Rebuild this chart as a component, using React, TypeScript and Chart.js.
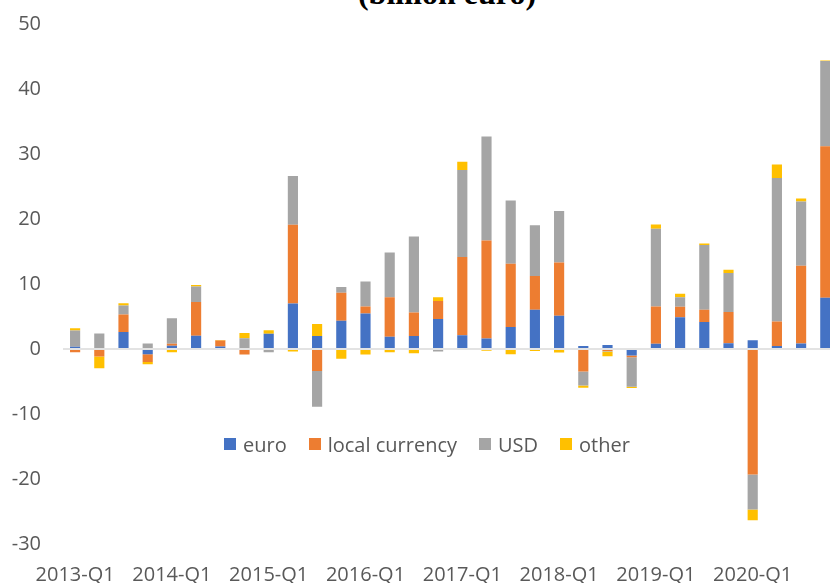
import React, { useEffect, useRef } from "react";
import { Chart, registerables } from "chart.js";

Chart.register(...registerables);

const categories = [
  "2013-Q1", "2013-Q2", "2013-Q3", "2013-Q4",
  "2014-Q1", "2014-Q2", "2014-Q3", "2014-Q4",
  "2015-Q1", "2015-Q2", "2015-Q3", "2015-Q4",
  "2016-Q1", "2016-Q2", "2016-Q3", "2016-Q4",
  "2017-Q1", "2017-Q2", "2017-Q3", "2017-Q4",
  "2018-Q1", "2018-Q2", "2018-Q3", "2018-Q4",
  "2019-Q1", "2019-Q2", "2019-Q3", "2019-Q4",
  "2020-Q1", "2020-Q2", "2020-Q3", "2020-Q4",
];

const euro = [0.35, -0.15, 2.6, -0.8, 0.5, 2.05, 0.4, 0, 2.35, 7.0, 2.0, 4.35, 5.45, 1.9, 2.0, 4.6, 2.1, 1.6, 3.4, 6.05, 5.1, 0.45, 0.6, -1.0, 0.8, 4.9, 4.15, 0.9, 1.35, 0.45, 0.85, 7.9];
const localCurrency = [-0.5, -1.0, 2.7, -1.2, 0.3, 5.2, 0.9, -0.85, 0, 12.1, -3.4, 4.3, 1.1, 6.05, 3.6, 2.8, 12.05, 15.1, 9.7, 5.2, 8.2, -3.45, -0.3, -0.25, 5.75, 1.6, 1.9, 4.8, -19.3, 3.8, 11.95, 23.3];
const usd = [2.5, 2.4, 1.4, 0.85, 3.95, 2.35, 0, 1.65, -0.5, 7.5, -5.5, 0.9, 3.85, 6.9, 11.7, -0.4, 13.4, 16.0, 9.75, 7.8, 7.95, -2.15, -0.1, -4.55, 11.95, 1.45, 9.95, 6.0, -5.4, 22.05, 9.9, 13.1];
const other = [0.35, -1.8, 0.35, -0.35, -0.5, 0.25, 0.1, 0.8, 0.55, -0.4, 1.85, -1.5, -0.85, -0.5, -0.65, 0.55, 1.25, -0.25, -0.8, -0.3, -0.55, -0.35, -0.7, -0.2, 0.65, 0.55, 0.25, 0.5, -1.65, 2.1, 0.45, 0.1];

const seriesNames = ["euro", "local currency", "USD", "other"];
const seriesColors = ["#4472C4", "#ED7D31", "#A5A5A5", "#FFC000"];
const yMin = -30;
const yMax = 50;
const yStep = 10;
const titleText = "(billion euro)";

const W = 860;
const H = 600;
const FONT = "'Open Sans', sans-serif";
const TEXT = "#595959";

export default function App() {
  const ref = useRef<HTMLCanvasElement | null>(null);

  useEffect(() => {
    if (!ref.current) return;
    const values = [euro, localCurrency, usd, other];
    const chart = new Chart(ref.current, {
      type: "bar",
      data: {
        labels: categories,
        datasets: seriesNames.map((name, i) => ({
          label: name,
          data: values[i],
          backgroundColor: seriesColors[i],
          borderWidth: 0,
          barPercentage: 1,
          categoryPercentage: 0.42,
        })),
      },
      options: {
        responsive: false,
        animation: false,
        layout: { padding: { top: 24, right: 22.6, bottom: 0, left: 0 } },
        plugins: {
          legend: { display: false },
          title: { display: false },
          tooltip: { enabled: false },
        },
        scales: {
          x: {
            stacked: true,
            grid: { display: false, drawTicks: false },
            border: { display: false },
            ticks: {
              autoSkip: false,
              maxRotation: 0,
              minRotation: 0,
              padding: 19,
              color: TEXT,
              font: { family: FONT, size: 20 },
              callback: (_v: any, i: number) => (i % 4 === 0 ? categories[i] : ""),
            },
            afterFit: (s: any) => {
              s.height = H - 544;
            },
          },
          y: {
            stacked: true,
            min: yMin,
            max: yMax,
            grid: {
              drawTicks: true,
              tickLength: 22,
              tickColor: "rgba(0,0,0,0)",
              lineWidth: 2,
              color: (ctx: any) => (ctx.tick && ctx.tick.value === 0 ? "#E3E3E3" : "rgba(0,0,0,0)"),
            },
            border: { display: false },
            ticks: {
              stepSize: yStep,
              padding: 0,
              color: TEXT,
              font: { family: FONT, size: 20 },
            },
            afterFit: (s: any) => {
              s.width = 63;
            },
          },
        },
      },
    });
    return () => chart.destroy();
  }, []);

  return (
    <div
      style={{
        position: "fixed",
        left: 0,
        top: 0,
        width: 830,
        height: 583,
        overflow: "hidden",
        background: "#fff",
      }}
    >
      <div
        style={{
          position: "absolute",
          left: 0,
          top: -23,
          width: 894,
          textAlign: "center",
          fontFamily: "'Liberation Serif', serif",
          fontWeight: "bold",
          fontSize: 32,
          lineHeight: "32px",
          color: "#000",
          whiteSpace: "nowrap",
        }}
      >
        {titleText}
      </div>
      <canvas
        ref={ref}
        width={W}
        height={H}
        style={{ position: "absolute", left: 0, top: 0, width: W, height: H }}
      />
      <div
        style={{
          position: "absolute",
          left: 224,
          top: 430,
          height: 28,
          display: "flex",
          alignItems: "center",
          fontFamily: FONT,
          fontSize: 20,
          color: TEXT,
          whiteSpace: "nowrap",
        }}
      >
        {seriesNames.map((name, i) => (
          <div key={name} style={{ display: "flex", alignItems: "center", marginRight: 22 }}>
            <span
              style={{
                display: "inline-block",
                width: 12,
                height: 12,
                background: seriesColors[i],
                marginRight: 7,
              }}
            />
            <span>{name}</span>
          </div>
        ))}
      </div>
    </div>
  );
}
